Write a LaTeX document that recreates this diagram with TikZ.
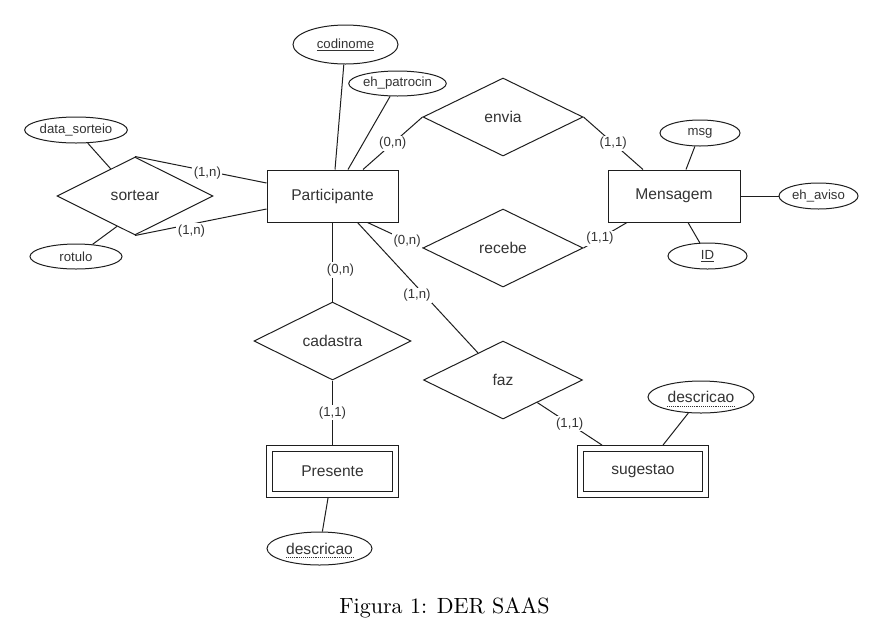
\documentclass[tikz,border=0pt]{standalone}
\usepackage{fontspec}
\newfontfamily\erfont{Liberation Sans}
\usetikzlibrary{shapes.geometric,calc}
\definecolor{inkgray}{RGB}{51,51,51}
\definecolor{edgeblack}{RGB}{30,30,30}

\begin{document}
\begin{tikzpicture}[x=1pt,y=-1pt,
  base/.style={draw=edgeblack, line width=1pt, inner sep=0pt, text=inkgray,
    font=\erfont\fontsize{15.6}{18}\selectfont},
  entity/.style={base, rectangle, minimum width=131pt, minimum height=52pt},
  weakentity/.style={base, rectangle, double, double distance=5.4pt,
    outer sep=3.2pt, minimum width=125.5pt, minimum height=46.5pt},
  relation/.style={base, diamond, minimum height=78pt},
  attr/.style={base, ellipse, font=\erfont\fontsize{13.2}{16}\selectfont},
  bigattr/.style={base, ellipse},
  card/.style={fill=white, inner sep=1.5pt, text=inkgray,
    font=\erfont\fontsize{13.2}{16}\selectfont},
  link/.style={draw=edgeblack, line width=1pt},
  partialkey/.style={draw=inkgray, line width=0.9pt, densely dotted}
]
\useasboundingbox (0,0) rectangle (882,638);

% entities
\node[entity] (part) at (332.5,196) {Participante};
\node[entity, minimum width=132pt] (msg) at (674,196) {Mensagem};
\node[weakentity] (pres) at (332.5,471.5) {Presente};
\node[weakentity] (sug) at (643,471.5) {sugestao};

% relationships
\node[relation, minimum width=156pt] (sortear) at (135,196) {sortear};
\node[relation, minimum width=160pt] (envia) at (503,117) {envia};
\node[relation, minimum width=160pt] (recebe) at (503,248) {recebe};
\node[relation, minimum width=157pt] (cadastra) at (332.5,341) {cadastra};
\node[relation, minimum width=159pt] (faz) at (503,380) {faz};

% attributes
\node[attr, minimum width=105pt, minimum height=39pt] (cod) at (345.5,44.5) {\underline{codinome}};
\node[attr, minimum width=79pt, minimum height=25pt] (ehp) at (397.5,83.5) {eh\_patrocin};
\node[attr, minimum width=92pt, minimum height=26pt] (dsort) at (76,130) {data\_sorteio};
\node[attr, minimum width=92pt, minimum height=25pt] (rot) at (76,256.5) {rotulo};
\node[attr, minimum width=80pt, minimum height=26pt] (mtext) at (700,133) {msg};
\node[attr, minimum width=79pt, minimum height=26pt] (aviso) at (818.5,196) {eh\_aviso};
\node[attr, minimum width=79pt, minimum height=26pt] (mid) at (707.5,256) {\underline{ID}};
\node[bigattr, minimum width=105pt, minimum height=33pt] (pdesc) at (319.5,548.5) {descricao};
\node[bigattr, minimum width=106pt, minimum height=32pt] (sdesc) at (701,397) {descricao};

% dotted underline of the partial keys
\draw[partialkey] ($(pdesc.center)+(-33.5,8.5)$) -- ($(pdesc.center)+(33.5,8.5)$);
\draw[partialkey] ($(sdesc.center)+(-34,9.5)$) -- ($(sdesc.center)+(34,9.5)$);

% attribute links
\draw[link] (cod) -- ($(part.north)+(2.5,0)$);
\draw[link] (ehp) -- ($(part.north)+(15.5,0)$);
\draw[link] (dsort) -- (sortear);
\draw[link] ($(sortear.south west)!0.54!(sortear.south)$) -- (rot);
\draw[link] (mtext) -- ($(msg.north)+(12,0)$);
\draw[link] (msg.east) -- (aviso);
\draw[link] ($(msg.south)+(14,0)$) -- (mid);
\draw[link] (pres) -- (pdesc);
\draw[link] (sdesc) -- ($(sug.north)+(20,0)$);

% relationship links with cardinalities
\draw[link] (sortear.north) -- node[card, pos=0.55, yshift=-2.5pt] {(1,n)} ($(part.west)+(0,-13)$);
\draw[link] (sortear.south) -- node[card, pos=0.43, yshift=-7pt] {(1,n)} ($(part.west)+(0,13)$);
\draw[link] ($(part.north)+(30.5,0)$) -- node[card] {(0,n)} (envia.west);
\draw[link] (envia.east) -- node[card] {(1,1)} ($(msg.north)+(-31,0)$);
\draw[link] ($(part.south)+(35,0)$) -- node[card, pos=0.72] {(0,n)} (recebe.west);
\draw[link] (recebe.east) -- node[card, pos=0.38] {(1,1)} ($(msg.south)+(-47,0)$);
\draw[link] (part.south) -- node[card, pos=0.6, xshift=8pt] {(0,n)} (cadastra.north);
\draw[link] (cadastra.south) -- node[card] {(1,1)} (pres.north);
\draw[link] ($(part.south)+(25,0)$) -- node[card, pos=0.56, xshift=-8pt] {(1,n)} (faz);
\draw[link] (faz) -- node[card] {(1,1)} ($(sug.north)+(-41,0)$);

% caption
\node[anchor=base, scale=2.2, inner sep=0pt] (caption) at (444.5,613)
  {\fontsize{10}{12}\selectfont Figura 1: DER SAAS};
\end{tikzpicture}
\end{document}
